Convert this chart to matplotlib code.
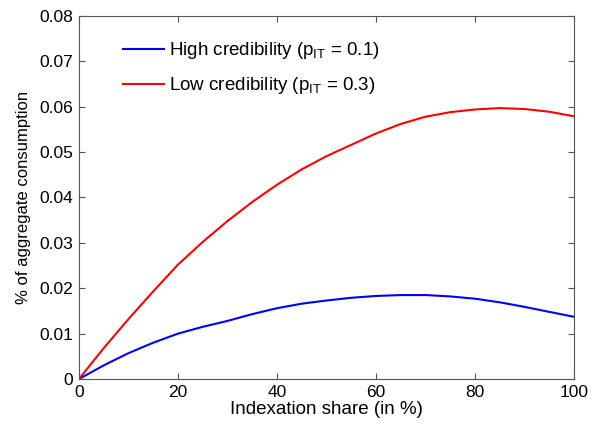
import numpy as np
import matplotlib
matplotlib.use("Agg")
import matplotlib.pyplot as plt

plt.rcParams['font.family'] = ['Liberation Sans', 'DejaVu Sans']
plt.rcParams['mathtext.fontset'] = 'custom'
plt.rcParams['mathtext.rm'] = 'Liberation Sans'
plt.rcParams['mathtext.it'] = 'Liberation Sans'

# indexation share (%) and welfare cost as % of aggregate consumption
share = [0, 5, 10, 15, 20, 25, 30, 35, 40, 45, 50,
         55, 60, 65, 70, 75, 80, 85, 90, 95, 100]
high_cred = [0, 0.0030, 0.0057, 0.0080, 0.0100, 0.0115, 0.0128, 0.0143, 0.0156, 0.0166, 0.0173,
             0.0179, 0.0183, 0.0185, 0.0185, 0.0182, 0.0177, 0.0169, 0.0159, 0.0148, 0.0137]
low_cred = [0, 0.0068, 0.0132, 0.0193, 0.0252, 0.0302, 0.0348, 0.0390, 0.0428, 0.0462, 0.0491,
            0.0516, 0.0541, 0.0562, 0.0578, 0.0588, 0.0594, 0.0597, 0.0595, 0.0589, 0.0579]

fig = plt.figure(figsize=(5.92, 4.25), dpi=100)
ax = fig.add_axes([0.1334, 0.1082, 0.8362, 0.8542])

ax.plot(share, high_cred, color='#0000ff', lw=1.5, label=r'High credibility (p$_{\rm IT}$ = 0.1)')
ax.plot(share, low_cred, color='#ff0000', lw=1.5, label=r'Low credibility (p$_{\rm IT}$ = 0.3)')

ax.set_xlim(0, 100)
ax.set_ylim(0, 0.08)
ax.set_xticks(np.arange(0, 101, 20))
ax.set_yticks(np.arange(0, 0.081, 0.01))
ax.set_yticklabels(['0'] + ['%.2f' % v for v in np.arange(0.01, 0.081, 0.01)])
ax.tick_params(direction='in', top=True, right=True, length=4, width=0.8,
               color='#555555', labelsize=12.5, pad=4)
for s in ax.spines.values():
    s.set_color('#555555')
    s.set_linewidth(0.8)

ax.set_xlabel('Indexation share (in %)', fontsize=13.5, labelpad=1)
ax.set_ylabel('% of aggregate consumption', fontsize=12, labelpad=6)

ax.legend(loc='upper left', frameon=False, fontsize=13.5, handlelength=2.2,
          handletextpad=0.25, labelspacing=0.75, bbox_to_anchor=(0.055, 0.98))

fig.savefig('out.png', dpi=100)
